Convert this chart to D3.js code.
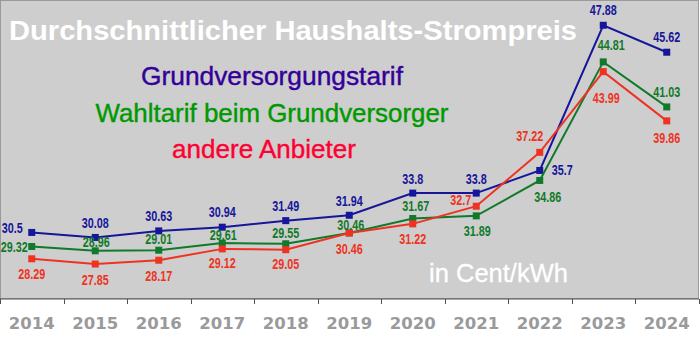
<!DOCTYPE html>
<html>
<head>
<meta charset="utf-8">
<script src="https://cdn.jsdelivr.net/npm/d3@7"></script>
<style>
  html, body { margin: 0; padding: 0; background: #ffffff; }
  svg { display: block; }
</style>
</head>
<body>
<script>
// ---- data ----
const years = ["2014","2015","2016","2017","2018","2019","2020","2021","2022","2023","2024"];
const grundversorgung = [30.5, 30.08, 30.63, 30.94, 31.49, 31.94, 33.8, 33.8, 35.7, 47.88, 45.62];
const wahltarif      = [29.32, 28.96, 29.01, 29.61, 29.55, 30.46, 31.67, 31.89, 34.86, 44.81, 41.03];
const andere         = [28.29, 27.85, 28.17, 29.12, 29.05, 30.46, 31.22, 32.7, 37.22, 43.99, 39.86];
const seriesNames = ["Grundversorgungstarif", "Wahltarif beim Grundversorger", "andere Anbieter"];
const titleText = "Durchschnittlicher Haushalts-Strompreis";
const unitText = "in Cent/kWh";

// ---- label placement (layout only) ----
const blueLabelPos = [
  {a:"end",dx:-9,dy:1},{a:"middle",dx:0,dy:-9},{a:"middle",dx:0,dy:-10},{a:"middle",dx:0,dy:-10},
  {a:"middle",dx:0,dy:-10},{a:"middle",dx:0,dy:-9},{a:"middle",dx:0,dy:-9},{a:"middle",dx:0,dy:-9},
  {a:"start",dx:12,dy:4.5},{a:"middle",dx:0,dy:-10},{a:"middle",dx:0,dy:-10}];
const greenLabelPos = [
  {a:"end",dx:-4,dy:5},{a:"middle",dx:1,dy:-4},{a:"middle",dx:0,dy:-6},{a:"middle",dx:1,dy:-3},
  {a:"middle",dx:0,dy:-6},{a:"middle",dx:1.5,dy:-3},{a:"middle",dx:3,dy:-7},{a:"middle",dx:1,dy:20},
  {a:"middle",dx:8,dy:22},{a:"middle",dx:8,dy:-12},{a:"middle",dx:0,dy:-10}];
const redLabelPos = [
  {a:"middle",dx:0,dy:20},{a:"middle",dx:0,dy:21},{a:"middle",dx:0,dy:20.5},{a:"middle",dx:0,dy:19.5},
  {a:"middle",dx:0,dy:19.5},{a:"middle",dx:0,dy:21},{a:"middle",dx:0,dy:20},{a:"end",dx:-5,dy:-1},
  {a:"middle",dx:-10,dy:-11},{a:"middle",dx:3,dy:31},{a:"middle",dx:0,dy:22}];

const W = 700, H = 341;
const svg = d3.select("body").append("svg").attr("width", W).attr("height", H);

const plot = {left: 0.5, right: 698.5, top: 0.5, bottom: 298.5};

const x = d3.scaleBand().domain(years).range([0, 698.5]).paddingInner(0).paddingOuter(0);
const y = d3.scaleLinear().domain([25, 50]).range([298, 0]);

// background
svg.append("rect")
  .attr("x", plot.left).attr("y", plot.top)
  .attr("width", plot.right - plot.left).attr("height", plot.bottom - plot.top)
  .attr("fill", "#cecece").attr("stroke", "#9a9a9a").attr("stroke-width", 1);

// x axis
const xAxisG = svg.append("g").attr("transform", "translate(0,299)");
xAxisG.append("line").attr("x1", 0).attr("x2", 699).attr("y1", 0).attr("y2", 0)
  .attr("stroke", "#505050").attr("stroke-width", 1.2);
const boundaries = years.map(d => x(d)).concat([x(years[years.length-1]) + x.bandwidth()]);
xAxisG.selectAll("line.tick").data(boundaries).enter().append("line")
  .attr("class","tick")
  .attr("x1", d => Math.round(d) + 0.5).attr("x2", d => Math.round(d) + 0.5)
  .attr("y1", 0).attr("y2", 5).attr("stroke", "#505050").attr("stroke-width", 1);
xAxisG.selectAll("text").data(years).enter().append("text")
  .attr("x", d => x(d) + x.bandwidth()/2)
  .attr("y", 30)
  .attr("text-anchor", "middle")
  .attr("font-family", "'DejaVu Sans', Verdana, sans-serif")
  .attr("font-weight", "bold")
  .attr("font-size", "16.5px")
  .attr("fill", "#9a9a9a")
  .text(d => d);

// title + legend texts
function addText(txt, xx, yy, len, size, weight, color, sw) {
  svg.append("text").attr("x", xx).attr("y", yy)
    .attr("font-family", "'Liberation Sans', Arial, sans-serif")
    .attr("font-size", size + "px").attr("font-weight", weight)
    .attr("fill", color)
    .attr("stroke", color).attr("stroke-width", sw)
    .attr("textLength", len).attr("lengthAdjust", "spacingAndGlyphs")
    .text(txt);
}
addText(titleText, 9, 40, 568, 28, "bold", "#ffffff", 0);
addText(seriesNames[0], 141, 85, 262, 26, "normal", "#330099", 0.4);
addText(seriesNames[1], 95.5, 121.7, 353, 26, "normal", "#009900", 0.4);
addText(seriesNames[2], 172, 158, 184, 26, "normal", "#ff0033", 0.4);
addText(unitText, 429, 281.7, 139, 26, "normal", "#ffffff", 0.3);

// series
const series = [
  {vals: grundversorgung, color: "#16169a", labelColor: "#16169a", pos: blueLabelPos},
  {vals: wahltarif, color: "#117a2a", labelColor: "#117a2a", pos: greenLabelPos},
  {vals: andere, color: "#ee3322", labelColor: "#ee3322", pos: redLabelPos}
];
const cx = d => x(d) + x.bandwidth()/2;
const line = d3.line().x(d => cx(d.year)).y(d => y(d.v));

// narrow-font width estimate for value labels
const labelLen = s => {
  let w = 0;
  for (const ch of s) w += (ch === ".") ? 3.0 : 6.0;
  return w;
};

series.forEach(s => {
  const pts = years.map((yr, i) => ({year: yr, v: s.vals[i], p: s.pos[i]}));
  const g = svg.append("g");
  g.append("path").datum(pts).attr("d", line)
    .attr("fill", "none").attr("stroke", s.color).attr("stroke-width", 2);
  g.selectAll("rect").data(pts).enter().append("rect")
    .attr("x", d => cx(d.year) - 3.5).attr("y", d => y(d.v) - 3.5)
    .attr("width", 7).attr("height", 7).attr("fill", s.color);
  s.pts = pts;
});
series.forEach(s => {
  svg.append("g").selectAll("text").data(s.pts).enter().append("text")
    .attr("x", d => cx(d.year) + d.p.dx)
    .attr("y", d => y(d.v) + d.p.dy)
    .attr("text-anchor", d => d.p.a)
    .attr("font-family", "'Liberation Sans', Arial, sans-serif")
    .attr("font-weight", "bold")
    .attr("font-size", "14px")
    .attr("fill", s.labelColor)
    .attr("textLength", d => labelLen(String(d.v)))
    .attr("lengthAdjust", "spacingAndGlyphs")
    .text(d => String(d.v));
});
</script>
</body>
</html>
